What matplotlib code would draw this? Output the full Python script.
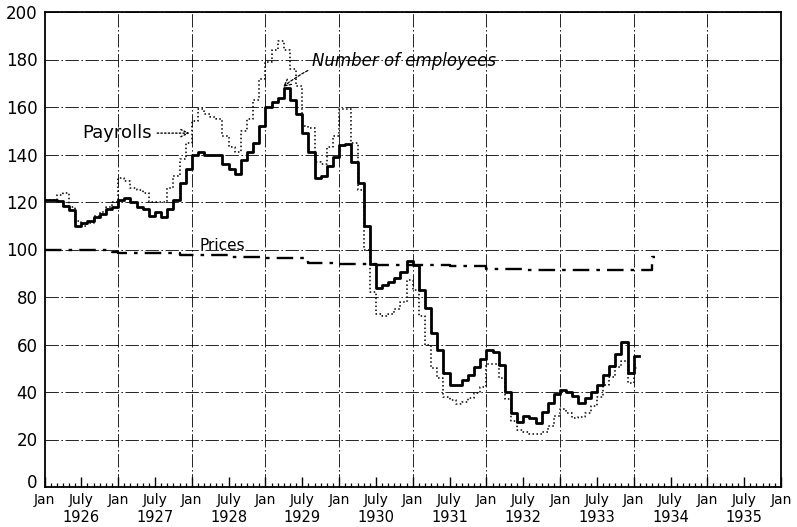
import numpy as np
import matplotlib
matplotlib.use("Agg")
import matplotlib.pyplot as plt
from matplotlib.transforms import blended_transform_factory, ScaledTranslation

# monthly index numbers, one value per month starting Jan 1926
employees = [
    121, 121, 120.5, 118.5, 116.5, 110, 111, 112, 113.5, 115, 117, 118,      # 1926
    121, 121.5, 120, 118, 117, 114, 116, 113.5, 117, 121, 128, 134,          # 1927
    140, 141, 140, 140, 140, 136, 134, 132, 137.5, 141, 145, 152,            # 1928
    160, 162, 164, 168, 163, 157, 149, 141, 130, 131, 135, 139,              # 1929
    144, 144.5, 137, 128, 110, 94, 84, 85, 86.5, 88, 90.5, 95,               # 1930
    93.5, 83, 75.5, 65, 57.5, 48, 43, 43, 45, 47, 50.5, 54,                  # 1931
    57.5, 57, 51.5, 40, 31, 27.5, 30, 29, 27, 31.5, 35.5, 39,                # 1932
    41, 40, 38.5, 35.5, 37.5, 40, 43, 47, 51, 56, 61, 48,                    # 1933
    55,                                                                      # 1934
]
payrolls = [
    121, 121, 123, 124, 118, 112, 110, 111, 114, 116, 118, 120,
    130, 129, 126, 125, 124, 120, 120, 120, 126, 131, 138, 145,
    154, 159, 157, 156, 155, 148, 143, 141, 150, 155, 163, 172,
    179, 184, 188, 184, 176, 169, 152, 151, 137, 136, 143, 148,
    159, 159, 145, 125, 100, 82, 73, 72, 73, 75, 78, 87,
    83, 72, 60, 50, 46, 38, 36.5, 35, 36, 37.5, 39.5, 42,
    52, 52, 46, 37, 28, 24, 23, 22.5, 22.5, 23, 25.5, 30,
    33, 31, 29, 29.5, 31, 34, 38, 43, 46.5, 50.5, 53, 44,
    50,
]
prices = [
    100, 100, 100, 100, 100, 100, 100, 100, 100, 100, 100, 99,
    98.5, 98.5, 98.5, 98.5, 98.5, 98.5, 98.5, 98.5, 98.5, 98.5, 97.5, 97.5,
    97.5, 97.5, 97.5, 97.5, 97.5, 97.5, 97, 97, 97, 97, 97, 97,
    96.5, 96.5, 96.5, 96.5, 96.5, 96.5, 96.5, 94.5, 94.5, 94.5, 94.5, 94.5,
    94, 94, 94, 94, 94, 94, 93.5, 93.5, 93.5, 93.5, 93.5, 93.5,
    93.5, 93.5, 93.5, 93.5, 93.5, 93.5, 93, 93, 93, 93, 93, 93,
    92, 92, 92, 92, 92, 92, 91.5, 91.5, 91.5, 91.5, 91.5, 91.5,
    91.5, 91.5, 91.5, 91.5, 91.5, 91.5, 91.5, 91.5, 91.5, 91.5, 91.5, 91.5,
    91.5, 91.5, 91.5, 97,
]
years = list(range(1926, 1936))
start = 1926


def steps(vals, tail=1.0):
    # month starts as fractional years; the last month is held for `tail` months
    x = start + np.arange(len(vals)) / 12.0
    x = np.append(x, x[-1] + tail / 12.0)
    y = np.append(vals, vals[-1])
    return x, y


fig = plt.figure(figsize=(7.97, 5.27), dpi=100)
ax = fig.add_axes([44.5 / 797, 40 / 527, (781 - 44.5) / 797, 475 / 527])

ax.set_xlim(1926, 1936)
ax.set_ylim(0, 200)

grid_ls = (0, (16, 3, 2, 3))
ax.set_yticks(range(0, 201, 20))
ax.yaxis.grid(True, color="black", linewidth=0.6, linestyle=grid_ls)
for yr in years[1:]:
    ax.axvline(yr, color="black", linewidth=0.6, linestyle=grid_ls, zorder=1)

x, y = steps(prices, 0.4)
ax.plot(x, y, drawstyle="steps-post", color="black", linewidth=1.7,
        linestyle=(0, (7, 3, 1.5, 3)), zorder=3)
x, y = steps(payrolls, 0.6)
ax.plot(x, y, drawstyle="steps-post", color="black", linewidth=1.1,
        linestyle=(0, (1, 1.6)), zorder=3)
x, y = steps(employees, 0.8)
ax.plot(x, y, drawstyle="steps-post", color="black", linewidth=2.0, zorder=4)

# x axis: Jan / July labels with the year under each July
pos = [start + k / 2 for k in range(21)]
ax.set_xticks(pos)
ax.set_xticklabels(["Jan" if k % 2 == 0 else "July" for k in range(21)], fontsize=10)
ax.set_xticks(start + np.arange(121) / 12.0, minor=True)
ax.tick_params(axis="x", which="major", direction="in", length=7, width=1, pad=4)
ax.tick_params(axis="x", which="minor", direction="in", length=3, width=0.9)
ax.tick_params(axis="y", length=0, pad=5, labelsize=12)

# lift the "0" a little so it clears the first "Jan"
zero = ax.yaxis.get_major_ticks()[0].label1
zero.set_transform(zero.get_transform() + ScaledTranslation(0, 4 / 72, fig.dpi_scale_trans))

trans = blended_transform_factory(ax.transData, ax.transAxes)
for yr in years:
    ax.text(yr + 0.5, -0.064, str(yr), transform=trans, ha="center", va="center",
            fontsize=10.5)

for s in ax.spines.values():
    s.set_linewidth(1.3)

ax.annotate("Payrolls", xy=(1927.97, 149), xytext=(1926.51, 149),
            fontsize=13, va="center", ha="left",
            arrowprops=dict(arrowstyle="->", linestyle=":", linewidth=1,
                            color="black", shrinkA=2, shrinkB=0))
ax.annotate("Number of employees", xy=(1929.24, 168.5), xytext=(1929.63, 179.5),
            fontsize=12, style="italic", va="center", ha="left",
            arrowprops=dict(arrowstyle="->", linestyle=(0, (2, 1.5)), linewidth=0.9,
                            color="black", shrinkA=1, shrinkB=0,
                            connectionstyle="arc3,rad=0.25"))
ax.text(1928.11, 101.8, "Prices", fontsize=11, ha="left", va="center")

fig.savefig("out.png", dpi=100)
